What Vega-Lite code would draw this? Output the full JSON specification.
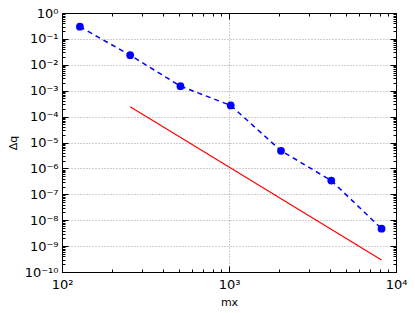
{
  "$schema": "https://vega.github.io/schema/vega-lite/v6.json",
  "width": 334,
  "height": 259,
  "autosize": "none",
  "padding": {"left": 62, "top": 13, "right": 19, "bottom": 41},
  "background": "white",
  "config": {
    "view": {"stroke": "black", "strokeWidth": 1},
    "font": "DejaVu Sans",
    "axis": {
      "labelFont": "DejaVu Sans",
      "titleFont": "DejaVu Sans",
      "labelColor": "black",
      "titleColor": "black",
      "domainColor": "black",
      "tickColor": "black",
      "labelOverlap": false,
      "labelFlush": false,
      "labelBound": false,
      "titleFontWeight": "normal"
    }
  },
  "datasets": {
    "err": [
      {"mx": 128, "dq": 0.295},
      {"mx": 256, "dq": 0.0234},
      {"mx": 512, "dq": 0.0015},
      {"mx": 1024, "dq": 0.00027},
      {"mx": 2048, "dq": 0.0000048},
      {"mx": 4096, "dq": 0.00000034},
      {"mx": 8192, "dq": 0.0000000047}
    ],
    "ref": [
      {"mx": 256, "dq": 0.00024},
      {"mx": 8192, "dq": 0.00000000029}
    ]
  },
  "layer": [
    {
      "data": {"name": "err"},
      "mark": {"type": "line", "color": "blue", "strokeWidth": 1.5, "strokeDash": [5, 4]},
      "encoding": {
        "x": {
          "field": "mx", "type": "quantitative",
          "scale": {"type": "log", "domain": [100, 10000], "nice": false},
          "axis": {
            "orient": "bottom",
            "title": "mx",
            "titleFontSize": 11,
            "titlePadding": 2,
            "values": [100,200,300,400,500,600,700,800,900,1000,2000,3000,4000,5000,6000,7000,8000,9000,10000],
            "labelExpr": "abs(log(datum.value)/LN10 - round(log(datum.value)/LN10)) < 0.001 ? ['10²','10³','10⁴'][round(log(datum.value)/LN10)-2] : ''",
            "labelFontSize": 13,
            "labelPadding": 12,
            "tickSize": {"condition": {"test": "abs(log(datum.value)/LN10 - round(log(datum.value)/LN10)) < 0.001", "value": -6}, "value": -3},
            "grid": true,
            "gridColor": "#777",
            "gridWidth": 0.7,
            "gridDash": [1, 2],
            "gridOpacity": {"condition": {"test": "abs(log(datum.value)/LN10 - round(log(datum.value)/LN10)) < 0.001", "value": 1}, "value": 0}
          }
        },
        "y": {
          "field": "dq", "type": "quantitative",
          "scale": {"type": "log", "domain": [1e-10, 1], "nice": false},
          "axis": {
            "orient": "left",
            "title": "Δq",
            "titleFontSize": 11,
            "titlePadding": 6,
            "values": [1e-10,2e-10,3e-10,4e-10,5e-10,6e-10,7e-10,8e-10,9e-10,
                       1e-9,2e-9,3e-9,4e-9,5e-9,6e-9,7e-9,8e-9,9e-9,
                       1e-8,2e-8,3e-8,4e-8,5e-8,6e-8,7e-8,8e-8,9e-8,
                       1e-7,2e-7,3e-7,4e-7,5e-7,6e-7,7e-7,8e-7,9e-7,
                       1e-6,2e-6,3e-6,4e-6,5e-6,6e-6,7e-6,8e-6,9e-6,
                       1e-5,2e-5,3e-5,4e-5,5e-5,6e-5,7e-5,8e-5,9e-5,
                       1e-4,2e-4,3e-4,4e-4,5e-4,6e-4,7e-4,8e-4,9e-4,
                       1e-3,2e-3,3e-3,4e-3,5e-3,6e-3,7e-3,8e-3,9e-3,
                       1e-2,2e-2,3e-2,4e-2,5e-2,6e-2,7e-2,8e-2,9e-2,
                       1e-1,2e-1,3e-1,4e-1,5e-1,6e-1,7e-1,8e-1,9e-1,1],
            "labelExpr": "abs(log(datum.value)/LN10 - round(log(datum.value)/LN10)) < 0.001 ? ['10⁰','10⁻¹','10⁻²','10⁻³','10⁻⁴','10⁻⁵','10⁻⁶','10⁻⁷','10⁻⁸','10⁻⁹','10⁻¹⁰'][round(-log(datum.value)/LN10)] : ''",
            "labelFontSize": 13,
            "labelPadding": 10,
            "tickSize": {"condition": {"test": "abs(log(datum.value)/LN10 - round(log(datum.value)/LN10)) < 0.001", "value": -6}, "value": -3},
            "grid": true,
            "gridColor": "#777",
            "gridWidth": 0.7,
            "gridDash": [1, 2],
            "gridOpacity": {"condition": {"test": "abs(log(datum.value)/LN10 - round(log(datum.value)/LN10)) < 0.001", "value": 1}, "value": 0}
          }
        }
      }
    },
    {
      "data": {"name": "err"},
      "mark": {"type": "point", "filled": true, "color": "blue", "size": 60, "opacity": 1},
      "encoding": {
        "x": {"field": "mx", "type": "quantitative", "axis": null},
        "y": {"field": "dq", "type": "quantitative", "axis": null}
      }
    },
    {
      "data": {"name": "ref"},
      "mark": {"type": "line", "color": "red", "strokeWidth": 1.2},
      "encoding": {
        "x": {
          "field": "mx", "type": "quantitative",
          "axis": {
            "orient": "top",
            "title": null,
            "labels": false,
            "grid": false,
            "values": [100,200,300,400,500,600,700,800,900,1000,2000,3000,4000,5000,6000,7000,8000,9000,10000],
            "tickSize": {"condition": {"test": "abs(log(datum.value)/LN10 - round(log(datum.value)/LN10)) < 0.001", "value": -6}, "value": -3}
          }
        },
        "y": {
          "field": "dq", "type": "quantitative",
          "axis": {
            "orient": "right",
            "title": null,
            "labels": false,
            "grid": false,
            "values": [1e-10,2e-10,3e-10,4e-10,5e-10,6e-10,7e-10,8e-10,9e-10,
                       1e-9,2e-9,3e-9,4e-9,5e-9,6e-9,7e-9,8e-9,9e-9,
                       1e-8,2e-8,3e-8,4e-8,5e-8,6e-8,7e-8,8e-8,9e-8,
                       1e-7,2e-7,3e-7,4e-7,5e-7,6e-7,7e-7,8e-7,9e-7,
                       1e-6,2e-6,3e-6,4e-6,5e-6,6e-6,7e-6,8e-6,9e-6,
                       1e-5,2e-5,3e-5,4e-5,5e-5,6e-5,7e-5,8e-5,9e-5,
                       1e-4,2e-4,3e-4,4e-4,5e-4,6e-4,7e-4,8e-4,9e-4,
                       1e-3,2e-3,3e-3,4e-3,5e-3,6e-3,7e-3,8e-3,9e-3,
                       1e-2,2e-2,3e-2,4e-2,5e-2,6e-2,7e-2,8e-2,9e-2,
                       1e-1,2e-1,3e-1,4e-1,5e-1,6e-1,7e-1,8e-1,9e-1,1],
            "tickSize": {"condition": {"test": "abs(log(datum.value)/LN10 - round(log(datum.value)/LN10)) < 0.001", "value": -6}, "value": -3}
          }
        }
      }
    }
  ]
}
